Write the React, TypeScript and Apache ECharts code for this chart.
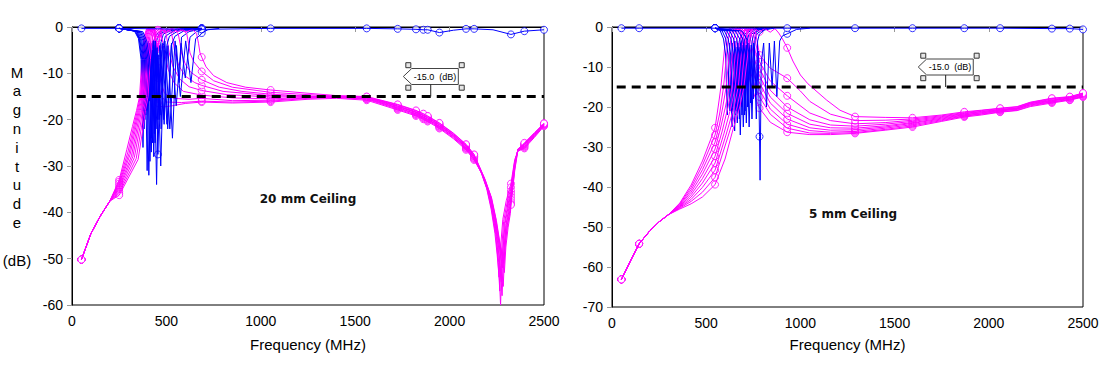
import React, { useEffect, useRef } from "react";
import * as echarts from "echarts";

// ---------------- DATA ----------------
const FREQ_MIN = 0;
const FREQ_MAX = 2500;
const FREQ_STEP = 500;
const LEFT_DB_MIN = -60;
const RIGHT_DB_MIN = -70;
const DB_STEP = 10;
const THRESHOLD_DB = -15;
const THRESHOLD_LINE = [[25, -15], [2500, -15]];
const LEFT_TITLE = "20 mm Ceiling";
const RIGHT_TITLE = "5 mm Ceiling";
const LEFT_CALLOUT_FREQ = 1900;
const RIGHT_CALLOUT_FREQ = 1771;

// frequencies where the solver put a sample (drawn as circles)
const LEFT_MARK_FREQS = [50, 250, 455, 687, 1052, 1561, 1725, 1822, 1861, 1884, 1946, 2087, 2130, 2325, 2396, 2500];
const RIGHT_MARK_FREQS = [50, 144, 547, 783, 930, 1290, 1595, 1870, 2060, 2335, 2430, 2500];

// ---- left chart (20 mm), transmission curves (magenta) ----
const L_HEAD = [[50, -50.2], [100, -44.6], [150, -40.8], [200, -37.6]];
const L_S21_0 = [[250,-33.0],[290,-26.5],[320,-21.5],[342,-18],[358,-15],[370,-7],[382,-2],[396,-0.3],[410,-0.6],[423,-1.5],[432,-3.5],[440,-5.6],[455,-16.4],[478,-17.3],[530,-17],[600,-16.5],[687,-16.2],[850,-16.4],[1052,-16.2],[1250,-15.6],[1400,-15.4],[1561,-15.8],[1725,-17.9],[1822,-19.2],[1861,-19.9],[1884,-20.4],[1946,-21.9],[2020,-24.1],[2087,-26.5],[2130,-28.7],[2166,-31.3],[2196,-34.8],[2220,-39.3],[2240,-44.5],[2252,-49.2],[2262,-54],[2270,-47.5],[2282,-41.5],[2300,-37.5],[2325,-33.8],[2345,-28.6],[2362,-26.8],[2396,-26.2],[2450,-23.8],[2500,-21.4]];
const L_S21_1 = [[250,-33.4],[296,-27],[326,-21.6],[347,-18],[362,-15],[374,-7],[386,-2],[400,-0.3],[418,-0.5],[433,-1.5],[441,-3.5],[448,-5.6],[455,-11],[470,-14.8],[500,-16.2],[580,-16.3],[687,-16.0],[850,-16.2],[1052,-16.0],[1250,-15.4],[1400,-15.2],[1561,-15.6],[1725,-17.7],[1822,-19.0],[1861,-19.7],[1884,-20.2],[1946,-21.7],[2020,-23.9],[2087,-26.3],[2130,-28.5],[2170,-31.6],[2200,-35.2],[2224,-39.6],[2244,-44.8],[2256,-50],[2266,-57],[2274,-49],[2286,-42],[2304,-38],[2325,-34.6],[2345,-28.9],[2362,-26.7],[2396,-26.0],[2450,-23.6],[2500,-21.3]];
const L_S21_2 = [[250,-33.8],[302,-27.3],[332,-21.6],[352,-18],[366,-15],[378,-7],[390,-2],[404,-0.3],[420,-0.8],[433,-0.5],[442,-1.5],[449,-3.5],[455,-7.5],[468,-11.5],[490,-14.3],[540,-15.4],[620,-15.6],[687,-15.4],[850,-15.9],[1052,-15.8],[1250,-15.3],[1400,-15.1],[1561,-15.5],[1725,-17.5],[1822,-18.8],[1861,-19.5],[1884,-20.0],[1946,-21.5],[2020,-23.7],[2087,-26.1],[2130,-28.3],[2172,-31.8],[2204,-35.6],[2228,-40],[2248,-45.2],[2260,-50.8],[2270,-60],[2278,-50],[2290,-42.5],[2308,-38.4],[2325,-35.4],[2345,-29.2],[2362,-26.6],[2396,-25.8],[2450,-23.5],[2500,-21.2]];
const L_S21_3 = [[250,-34.2],[308,-27.5],[338,-21.6],[357,-18],[371,-15],[383,-7],[395,-2],[409,-0.3],[432,-1.5],[446,-3.5],[455,-5.6],[464,-2.5],[472,-1.5],[482,-3.5],[490,-5.6],[510,-9.2],[540,-12],[590,-13.9],[687,-14.7],[850,-15.3],[1052,-15.5],[1250,-15.2],[1400,-15.2],[1561,-15.4],[1725,-17.4],[1822,-18.7],[1861,-19.4],[1884,-19.9],[1946,-21.4],[2020,-23.6],[2087,-26.0],[2130,-28.2],[2175,-32],[2207,-35.8],[2232,-40.4],[2252,-45.6],[2264,-50.5],[2274,-55],[2282,-48.5],[2294,-42.4],[2311,-38.6],[2325,-36],[2345,-29.4],[2362,-26.5],[2396,-25.7],[2450,-23.4],[2500,-21.1]];
const L_S21_4 = [[250,-34.6],[315,-27.8],[345,-21.6],[362,-18],[376,-15],[388,-7],[400,-2],[414,-0.3],[435,-1.2],[447,-3],[455,-4.3],[465,-1.5],[480,-0.5],[498,-1.5],[507,-3.5],[515,-5.6],[535,-8.6],[570,-11.2],[620,-12.9],[687,-13.7],[820,-14.6],[1052,-15.1],[1250,-15.1],[1400,-15.1],[1561,-15.3],[1725,-17.2],[1822,-18.5],[1861,-19.2],[1884,-19.7],[1946,-21.2],[2020,-23.4],[2087,-25.8],[2130,-28.0],[2178,-32.2],[2211,-36],[2236,-40.8],[2256,-46],[2268,-51.5],[2278,-58],[2286,-49.5],[2298,-42.8],[2314,-39],[2325,-36.6],[2345,-29.6],[2362,-26.4],[2396,-25.5],[2450,-23.2],[2500,-21.0]];
const L_S21_5 = [[250,-35.0],[322,-28],[352,-21.6],[368,-18],[382,-15],[394,-7],[406,-2],[420,-0.3],[440,-1.0],[455,-2.4],[470,-0.6],[490,-0.4],[510,-0.8],[528,-1.5],[537,-3.5],[545,-5.6],[565,-8.3],[600,-10.6],[650,-12],[687,-12.6],[800,-13.9],[1052,-14.8],[1250,-15.0],[1400,-15.0],[1561,-15.2],[1725,-17.1],[1822,-18.4],[1861,-19.1],[1884,-19.6],[1946,-21.1],[2020,-23.3],[2087,-25.7],[2130,-27.9],[2180,-32.4],[2214,-36.2],[2239,-41],[2259,-46.2],[2271,-49.5],[2281,-52],[2289,-47],[2301,-42.6],[2317,-39.2],[2325,-37.2],[2345,-29.8],[2362,-26.4],[2396,-25.4],[2450,-23.1],[2500,-21.0]];
const L_S21_6 = [[250,-35.5],[330,-28.2],[360,-21.6],[374,-18],[388,-15],[400,-7],[412,-2],[426,-0.3],[445,-1.2],[455,-0.6],[470,-0.3],[495,-1.3],[520,-0.4],[545,-0.5],[563,-1.5],[572,-3.5],[580,-5.6],[600,-8],[630,-9.8],[687,-11.4],[780,-13],[900,-13.9],[1052,-14.5],[1250,-14.9],[1400,-15.0],[1561,-15.1],[1725,-17.0],[1822,-18.3],[1861,-19.0],[1884,-19.5],[1946,-21.0],[2020,-23.2],[2087,-25.6],[2130,-27.8],[2183,-32.6],[2217,-36.5],[2242,-41.3],[2262,-46.6],[2274,-51],[2284,-56],[2292,-48.5],[2304,-43],[2319,-39.6],[2325,-37.8],[2345,-30.2],[2362,-26.3],[2396,-25.3],[2450,-23.0],[2500,-20.9]];
const L_S21_7 = [[250,-35.9],[340,-28.4],[368,-21.6],[381,-18],[395,-15],[407,-7],[419,-2],[433,-0.3],[455,-1.4],[475,-0.3],[500,-1.2],[530,-0.3],[560,-1.0],[590,-0.5],[608,-1.5],[617,-3.5],[625,-5.6],[645,-7.5],[687,-9.6],[750,-11.6],[850,-13],[1052,-14.1],[1250,-14.6],[1400,-14.9],[1561,-15.1],[1725,-16.8],[1822,-18.1],[1861,-18.8],[1884,-19.3],[1946,-20.8],[2020,-23.0],[2087,-25.4],[2130,-27.6],[2186,-32.8],[2220,-36.7],[2245,-41.5],[2265,-46.6],[2277,-49],[2287,-51],[2295,-46.5],[2307,-42.8],[2320,-39.8],[2325,-38.2],[2345,-30.6],[2362,-26.4],[2396,-25.2],[2450,-22.9],[2500,-20.8]];
const L_S21_8 = [[250,-36.3],[350,-28.6],[377,-21.6],[389,-18],[403,-15],[415,-7],[427,-2],[441,-0.3],[455,-0.8],[480,-1.5],[505,-0.3],[535,-1.2],[565,-0.3],[600,-1.1],[640,-0.5],[660,-1.5],[670,-3.5],[678,-5.6],[687,-6.5],[710,-8.6],[750,-10.5],[820,-12.0],[920,-13.0],[1052,-13.6],[1250,-14.3],[1400,-14.8],[1561,-15.0],[1725,-16.7],[1822,-18.0],[1861,-18.7],[1884,-19.2],[1946,-20.7],[2020,-22.9],[2087,-25.3],[2130,-27.5],[2189,-33],[2223,-37],[2248,-41.8],[2268,-47],[2280,-50.2],[2290,-53],[2298,-47.5],[2310,-43.2],[2322,-40.2],[2325,-38.4],[2345,-31],[2362,-26.5],[2396,-25.0],[2450,-22.8],[2500,-20.8]];

// ---- left chart, reflection curves (blue) ----
const L_S11_BASE = [[50,-0.3],[250,-0.3],[687,-0.5],[1052,-0.3],[1561,-0.3],[1725,-0.4],[1822,-0.5],[1861,-0.6],[1884,-0.6],[1946,-1.2],[2020,-0.7],[2087,-0.4],[2130,-0.4],[2230,-0.6],[2325,-1.6],[2396,-0.9],[2500,-0.6]];
const L_S11_0 = [[250,-0.3],[330,-0.8],[352,-2.5],[366,-7],[376,-26],[387,-4],[398,-31],[410,-3.5],[422,-24],[433,-3],[445,-1.8],[458,-1.2],[490,-0.7],[560,-0.4],[687,-0.3]];
const L_S11_1 = [[250,-0.3],[335,-0.9],[356,-2.6],[370,-7],[382,-22],[394,-4.5],[407,-32],[420,-5],[433,-28],[444,-4],[452,-2.4],[460,-1.6],[500,-0.8],[580,-0.4],[687,-0.3]];
const L_S11_2 = [[250,-0.3],[340,-0.9],[360,-2.8],[374,-7],[386,-20],[399,-3.5],[413,-29],[426,-5],[440,-25],[451,-4],[462,-20],[470,-3.5],[484,-1.5],[530,-0.7],[600,-0.4],[687,-0.3]];
const L_S11_3 = [[250,-0.3],[345,-1],[365,-3],[379,-7],[391,-19],[405,-3],[420,-27],[434,-5],[448,-34],[460,-6],[472,-22],[484,-4],[494,-2],[540,-0.8],[620,-0.4],[687,-0.3]];
const L_S11_4 = [[250,-0.3],[350,-1],[370,-3],[384,-7],[396,-18],[411,-3.5],[427,-25],[442,-4.5],[455,-27.5],[470,-5],[488,-21],[502,-4],[516,-2],[560,-0.9],[640,-0.4],[687,-0.3]];
const L_S11_5 = [[250,-0.3],[356,-1],[376,-3],[390,-7],[402,-17],[418,-3.5],[436,-23],[451,-4.5],[470,-30],[488,-5],[507,-22],[526,-4],[545,-2],[590,-0.9],[687,-0.4]];
const L_S11_6 = [[250,-0.3],[362,-1],[382,-3],[396,-7],[409,-16],[426,-3],[445,-22],[464,-4],[486,-20],[508,-4],[532,-24],[553,-4],[568,-12],[580,-2.2],[620,-1],[687,-0.4]];
const L_S11_7 = [[250,-0.3],[368,-1],[389,-3],[403,-7],[416,-15],[434,-3],[454,-20],[478,-3.5],[503,-21],[527,-3.5],[552,-17],[578,-3.5],[600,-11],[625,-2.2],[660,-1.0],[687,-0.6]];
const L_S11_8 = [[250,-0.3],[375,-1],[396,-3],[411,-7],[424,-14],[442,-3],[466,-19],[492,-3],[518,-22],[546,-3],[574,-15],[602,-3],[630,-12],[655,-2.5],[678,-1.8],[687,-1.3],[720,-0.6],[780,-0.3]];

// ---- right chart (5 mm), transmission curves (magenta) ----
const R_HEAD = [[50,-63.1],[100,-58.3],[144,-54.2],[200,-51.0],[250,-48.7],[300,-46.9]];
const R_S21_0 = [[360,-44.0],[420,-39.5],[480,-33.5],[547,-25.2],[565,-19.5],[578,-15],[590,-9],[600,-4],[612,-0.8],[628,-0.3],[645,-1.2],[662,-0.3],[680,-1],[695,-4],[712,-9],[730,-13],[755,-17],[783,-20.3],[840,-23.8],[930,-26.3],[1050,-26.9],[1160,-26.9],[1290,-26.6],[1450,-25.8],[1595,-25.0],[1750,-23.6],[1870,-22.5],[1960,-22],[2060,-21.3],[2150,-20.9],[2220,-19.9],[2335,-19.0],[2430,-18.3],[2500,-17.5]];
const R_S21_1 = [[360,-44.2],[420,-40.1],[480,-34.6],[547,-27],[572,-21.5],[592,-15],[604,-9],[614,-4],[626,-0.8],[642,-0.3],[658,-1.2],[674,-0.3],[690,-1],[705,-4],[722,-8.5],[740,-12],[760,-15],[783,-17.5],[840,-21.8],[930,-25.3],[1050,-26.5],[1160,-26.6],[1290,-26.4],[1450,-25.6],[1595,-24.7],[1750,-23.4],[1870,-22.3],[1960,-21.8],[2060,-21.2],[2150,-20.8],[2220,-19.7],[2335,-18.8],[2430,-18.2],[2500,-17.4]];
const R_S21_2 = [[360,-44.4],[420,-40.7],[480,-35.7],[547,-28.8],[570,-24.5],[588,-20],[606,-15],[618,-9],[628,-4],[640,-0.8],[655,-0.3],[670,-1.1],[685,-0.3],[700,-1],[715,-4],[732,-8.3],[750,-11.7],[783,-15.7],[840,-20.5],[930,-24.3],[1050,-25.9],[1160,-26.3],[1290,-26.1],[1450,-25.3],[1595,-24.4],[1750,-23.2],[1870,-22.2],[1960,-21.7],[2060,-21.0],[2150,-20.6],[2220,-19.5],[2335,-18.7],[2430,-18.1],[2500,-17.3]];
const R_S21_3 = [[360,-44.6],[420,-41.3],[480,-36.8],[547,-30.5],[575,-25.5],[602,-20],[622,-15],[634,-9],[644,-4],[656,-0.8],[670,-0.3],[684,-1.1],[698,-0.3],[712,-1],[727,-4],[745,-8.3],[763,-11.5],[783,-14],[840,-19],[930,-23],[1050,-25.2],[1160,-25.8],[1290,-25.7],[1450,-25.0],[1595,-24.1],[1750,-23.0],[1870,-22.0],[1960,-21.5],[2060,-20.9],[2150,-20.5],[2220,-19.4],[2335,-18.5],[2430,-17.9],[2500,-17.2]];
const R_S21_4 = [[360,-44.8],[420,-41.9],[480,-37.9],[547,-32.3],[585,-26],[616,-20],[638,-15],[650,-9],[660,-4],[672,-0.8],[686,-0.3],[698,-1],[711,-0.3],[724,-1],[739,-4],[757,-8.2],[783,-12.2],[840,-17.5],[930,-21.6],[1050,-24.3],[1160,-25.2],[1290,-25.3],[1450,-24.7],[1595,-23.9],[1750,-22.8],[1870,-21.9],[1960,-21.4],[2060,-20.8],[2150,-20.4],[2220,-19.2],[2335,-18.4],[2430,-17.8],[2500,-17.0]];
const R_S21_5 = [[360,-45.0],[420,-42.5],[480,-39.0],[547,-34],[595,-26.5],[632,-20],[654,-15],[666,-9],[676,-4],[688,-0.8],[700,-0.3],[712,-1],[724,-0.3],[736,-1],[751,-4],[768,-7.6],[783,-10.3],[840,-15.8],[930,-20],[1050,-23.2],[1160,-24.5],[1290,-24.8],[1450,-24.3],[1595,-23.6],[1750,-22.6],[1870,-21.7],[1960,-21.2],[2060,-20.7],[2150,-20.3],[2220,-19.1],[2335,-18.3],[2430,-17.7],[2500,-16.9]];
const R_S21_6 = [[360,-45.1],[420,-43.1],[480,-40.1],[547,-35.8],[605,-27],[648,-20],[670,-15],[682,-9],[692,-4],[704,-0.8],[716,-0.3],[726,-0.9],[737,-0.3],[748,-1],[763,-4],[783,-8.7],[840,-13.5],[930,-17.2],[1050,-21.5],[1160,-23.4],[1290,-24.2],[1450,-23.9],[1595,-23.3],[1750,-22.4],[1870,-21.6],[1960,-21.1],[2060,-20.6],[2150,-20.2],[2220,-19.0],[2335,-18.1],[2430,-17.6],[2500,-16.8]];
const R_S21_7 = [[360,-45.3],[420,-43.6],[480,-41.3],[547,-37.6],[615,-27.5],[664,-20],[686,-15],[698,-9],[708,-4],[720,-0.8],[731,-0.3],[740,-0.8],[750,-0.3],[760,-1],[772,-4],[783,-7],[840,-10.3],[930,-12.8],[1000,-16],[1050,-18.6],[1160,-21.8],[1290,-23.4],[1450,-23.3],[1595,-23.0],[1750,-22.2],[1870,-21.4],[1960,-20.9],[2060,-20.4],[2150,-20.0],[2220,-18.9],[2335,-17.9],[2430,-17.5],[2500,-16.6]];
const R_S21_8 = [[360,-45.5],[420,-44.2],[480,-42.5],[547,-39.4],[600,-33],[640,-26],[678,-20],[700,-15],[715,-9],[728,-4],[740,-0.8],[755,-0.3],[783,-1.2],[810,-0.4],[840,-1.3],[865,-0.4],[885,-1.5],[905,-3],[930,-5.2],[960,-8.5],[1000,-12],[1040,-14.2],[1140,-18.3],[1210,-20.8],[1290,-22.4],[1450,-22.6],[1595,-22.7],[1750,-22.0],[1870,-21.2],[1960,-20.8],[2060,-20.3],[2150,-19.9],[2220,-18.8],[2335,-17.8],[2430,-17.4],[2500,-16.5]];

// ---- right chart, reflection curves (blue) ----
const R_S11_BASE = [[50,-0.3],[144,-0.3],[547,-0.3],[930,-0.3],[1290,-0.3],[1595,-0.3],[1870,-0.3],[2060,-0.3],[2335,-0.4],[2430,-0.4],[2500,-0.6]];
const R_S11_0 = [[547,-0.3],[575,-1],[592,-3],[603,-7],[612,-22],[624,-4],[637,-25],[650,-4.5],[662,-21],[675,-3.5],[688,-2],[710,-0.8],[780,-0.3]];
const R_S11_1 = [[547,-0.3],[585,-1],[604,-3],[616,-7],[626,-21],[638,-4],[651,-26],[664,-5],[676,-23],[688,-3.5],[700,-2],[725,-0.8],[790,-0.3]];
const R_S11_2 = [[547,-0.3],[597,-1],[617,-3],[630,-7],[640,-20],[652,-3.5],[665,-24],[678,-5],[690,-22],[702,-3.5],[713,-1.8],[740,-0.7],[800,-0.3]];
const R_S11_3 = [[547,-0.3],[610,-1],[632,-3],[645,-7],[656,-22],[668,-4],[681,-27],[694,-4.5],[706,-21],[717,-3.5],[727,-1.8],[760,-0.7],[810,-0.3]];
const R_S11_4 = [[547,-0.3],[625,-1],[646,-3],[660,-7],[672,-21],[684,-4],[697,-25],[710,-4.5],[721,-20],[731,-3.5],[740,-1.8],[775,-0.8],[820,-0.3]];
const R_S11_5 = [[547,-0.3],[640,-1],[662,-3],[676,-7],[688,-20],[700,-4],[713,-24],[725,-4],[735,-19],[744,-3.5],[752,-1.8],[785,-0.6],[830,-0.3]];
const R_S11_6 = [[547,-0.3],[655,-1],[678,-3],[692,-7],[704,-22],[716,-4.5],[728,-25],[740,-4.5],[750,-18],[758,-3.5],[766,-1.8],[790,-1],[840,-0.3]];
const R_S11_7 = [[547,-0.3],[670,-1],[694,-3],[708,-7],[719,-20],[731,-4.5],[743,-23],[755,-5],[765,-17],[773,-3.5],[782,-1.8],[810,-0.7],[860,-0.3]];
const R_S11_8 = [[547,-0.3],[690,-1],[715,-3],[728,-7],[740,-19],[752,-4],[766,-23],[776,-6],[783,-27.4],[786,-38.3],[792,-9],[805,-4],[820,-20],[835,-4],[850,-15],[862,-3.5],[875,-17.4],[890,-3.5],[905,-2.2],[930,-1.7],[980,-0.6],[1050,-0.3]];

const LEFT_S21 = [L_S21_0, L_S21_1, L_S21_2, L_S21_3, L_S21_4, L_S21_5, L_S21_6, L_S21_7, L_S21_8].map((c) => [...L_HEAD, ...c]);
const LEFT_S11 = [L_S11_0, L_S11_1, L_S11_2, L_S11_3, L_S11_4, L_S11_5, L_S11_6, L_S11_7, L_S11_8];
const RIGHT_S21 = [R_S21_0, R_S21_1, R_S21_2, R_S21_3, R_S21_4, R_S21_5, R_S21_6, R_S21_7, R_S21_8].map((c) => [...R_HEAD, ...c]);
const RIGHT_S11 = [R_S11_0, R_S11_1, R_S11_2, R_S11_3, R_S11_4, R_S11_5, R_S11_6, R_S11_7, R_S11_8];

// ---------------- STYLE ----------------
const MAGENTA = "#ff00ff";
const BLUE = "#0000ff";
const SANS = '"Liberation Sans", Arial, sans-serif';

function line(data: number[][], color: string, gi: number) {
  return {
    type: "line",
    xAxisIndex: gi,
    yAxisIndex: gi,
    data,
    symbol: "none",
    showSymbol: false,
    silent: true,
    lineStyle: { color, width: 1 },
    itemStyle: { color },
    emphasis: { disabled: true },
  };
}

// interleave transmission and reflection curves so neither colour covers the other completely
function interleaved(s21: number[][][], s11: number[][][], gi: number) {
  const out: any[] = [];
  const n = Math.max(s21.length, s11.length);
  for (let i = 0; i < n; i++) {
    if (s21[i]) out.push(line(s21[i], MAGENTA, gi));
    if (s11[i]) out.push(line(s11[i], BLUE, gi));
  }
  return out;
}

function marks(curves: number[][][], freqs: number[], color: string, gi: number) {
  const set = new Set(freqs);
  const pts: number[][] = [];
  curves.forEach((c) => c.forEach((p) => { if (set.has(p[0])) pts.push(p); }));
  return {
    type: "scatter",
    xAxisIndex: gi,
    yAxisIndex: gi,
    data: pts,
    symbol: "circle",
    symbolSize: 7,
    silent: true,
    itemStyle: { color: "#fff", borderColor: color, borderWidth: 1 },
    emphasis: { disabled: true },
  };
}

function xAxis(gi: number, gap: number) {
  return {
    type: "value",
    gridIndex: gi,
    min: FREQ_MIN,
    max: FREQ_MAX,
    interval: FREQ_STEP,
    axisLine: { show: true, lineStyle: { color: "#000", width: 1 } },
    axisTick: { show: true, length: 5, lineStyle: { color: "#999" } },
    splitLine: { show: false },
    axisLabel: { color: "#000", fontSize: 14, fontFamily: SANS, margin: 9, formatter: (v: number) => String(v) },
    name: "Frequency (MHz)",
    nameLocation: "middle",
    nameGap: gap,
    nameTextStyle: { color: "#000", fontSize: 15, fontFamily: SANS },
  };
}

function yAxis(gi: number, min: number) {
  return {
    type: "value",
    gridIndex: gi,
    min,
    max: 0,
    interval: DB_STEP,
    axisLine: { show: true, lineStyle: { color: "#000", width: 1 } },
    axisTick: { show: true, length: 5, lineStyle: { color: "#999" } },
    splitLine: { show: false },
    axisLabel: { color: "#000", fontSize: 14, fontFamily: SANS, margin: 9, formatter: (v: number) => String(v) },
  };
}

function threshold(gi: number) {
  return {
    type: "line",
    xAxisIndex: gi,
    yAxisIndex: gi,
    data: THRESHOLD_LINE,
    symbol: "none",
    silent: true,
    z: 5,
    lineStyle: { color: "#000", width: 3, type: [9, 6] },
    emphasis: { disabled: true },
  };
}

function callout(sx: number, sy: number) {
  const handle = (hx: number, hy: number) => ({
    type: "rect",
    z: 102,
    shape: { x: hx - 2.5, y: hy - 2.5, width: 5, height: 5 },
    style: { fill: "#e6e6e6", stroke: "#333", lineWidth: 1 },
  });
  return [
    {
      type: "polygon",
      z: 100,
      shape: { points: [[sx - 27.4, sy - 20], [sx - 19, sy - 28], [sx + 27.6, sy - 28], [sx + 27.6, sy - 12], [sx - 19, sy - 12]] },
      style: { fill: "#fff", stroke: "#444", lineWidth: 1 },
    },
    { type: "line", z: 100, shape: { x1: sx, y1: sy - 12, x2: sx, y2: sy }, style: { stroke: "#222", lineWidth: 1 } },
    {
      type: "text",
      z: 101,
      x: sx + 4.3,
      y: sy - 20,
      style: { text: `${THRESHOLD_DB.toFixed(1)}  (dB)`, font: `9px ${SANS}`, fill: "#000", textAlign: "center", textVerticalAlign: "middle" },
    },
    handle(sx - 22.4, sy - 31.3),
    handle(sx + 31, sy - 31.3),
    handle(sx - 22.4, sy - 8.8),
    handle(sx + 31, sy - 8.8),
  ];
}

export default function App() {
  const ref = useRef<HTMLDivElement>(null);
  useEffect(() => {
    const el = ref.current;
    if (!el) return;
    const chart = echarts.init(el, null, { renderer: "svg" });
    const option: any = {
      animation: false,
      backgroundColor: "#fff",
      grid: [
        { left: 72, top: 27, width: 472, height: 278, show: true, borderColor: "#000", borderWidth: 1, backgroundColor: "transparent" },
        { left: 612, top: 27, width: 471, height: 280, show: true, borderColor: "#000", borderWidth: 1, backgroundColor: "transparent" },
      ],
      xAxis: [xAxis(0, 32), xAxis(1, 30)],
      yAxis: [yAxis(0, LEFT_DB_MIN), yAxis(1, RIGHT_DB_MIN)],
      series: [
        ...interleaved(LEFT_S21, LEFT_S11, 0),
        line(L_S11_BASE, BLUE, 0),
        marks(LEFT_S21, LEFT_MARK_FREQS, MAGENTA, 0),
        marks([...LEFT_S11, L_S11_BASE], LEFT_MARK_FREQS, BLUE, 0),
        threshold(0),
        ...interleaved(RIGHT_S21, RIGHT_S11, 1),
        line(R_S11_BASE, BLUE, 1),
        marks(RIGHT_S21, RIGHT_MARK_FREQS, MAGENTA, 1),
        marks([...RIGHT_S11, R_S11_BASE], RIGHT_MARK_FREQS, BLUE, 1),
        threshold(1),
      ],
    };
    chart.setOption(option);

    const pl = chart.convertToPixel({ gridIndex: 0 }, [LEFT_CALLOUT_FREQ, THRESHOLD_DB]) as number[];
    const pr = chart.convertToPixel({ gridIndex: 1 }, [RIGHT_CALLOUT_FREQ, THRESHOLD_DB]) as number[];
    const tl = chart.convertToPixel({ gridIndex: 0 }, [1250, -37.1]) as number[];
    const tr = chart.convertToPixel({ gridIndex: 1 }, [1279, -46.75]) as number[];

    chart.setOption({
      graphic: [
        {
          type: "text",
          x: 17,
          y: 166,
          style: {
            text: "M\na\ng\nn\ni\nt\nu\nd\ne\n\n(dB)",
            font: `15px ${SANS}`,
            fill: "#000",
            textAlign: "center",
            textVerticalAlign: "middle",
            lineHeight: 18.8,
          },
        },
        {
          type: "text",
          x: tl[0],
          y: tl[1],
          style: { text: LEFT_TITLE, font: 'bold 12px "DejaVu Sans", sans-serif', fill: "#111", textAlign: "center", textVerticalAlign: "middle" },
        },
        {
          type: "text",
          x: tr[0],
          y: tr[1],
          style: { text: RIGHT_TITLE, font: 'bold 12px "DejaVu Sans", sans-serif', fill: "#111", textAlign: "center", textVerticalAlign: "middle" },
        },
        ...callout(pl[0], pl[1]),
        ...callout(pr[0], pr[1]),
      ],
    });

    return () => chart.dispose();
  }, []);
  return <div ref={ref} style={{ position: "absolute", left: 0, top: 0, width: 1104, height: 365 }} />;
}
